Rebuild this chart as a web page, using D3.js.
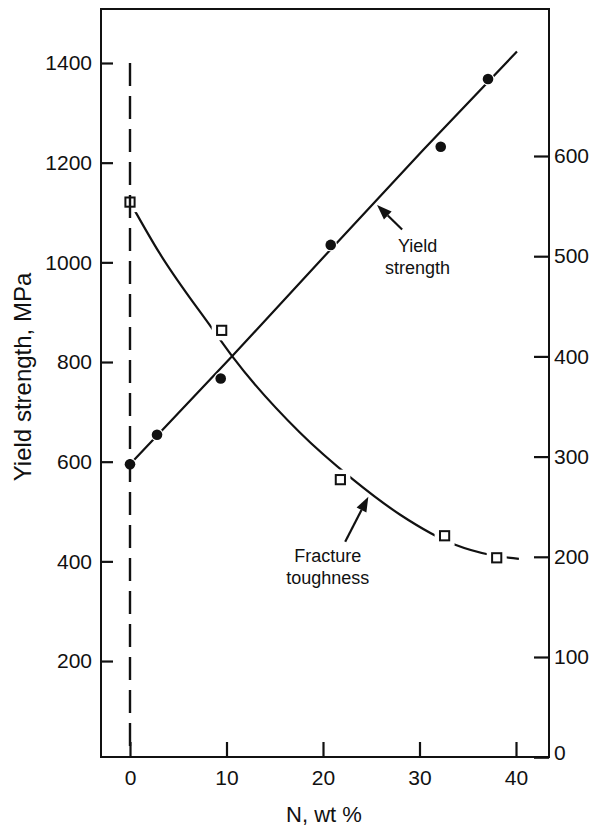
<!DOCTYPE html>
<html>
<head>
<meta charset="utf-8">
<script src="https://cdn.jsdelivr.net/npm/d3@7"></script>
<style>
  html, body { margin: 0; padding: 0; background: #fff; }
  svg { display: block; }
  text { font-family: "Liberation Sans", Arial, Helvetica, sans-serif; fill: #111; }
</style>
</head>
<body>
<svg id="chart" width="604" height="828"></svg>
<script>
// Measured yield strength (MPa) against nitrogen content (wt %)
const nYield   = [0, 2.8, 9.4, 20.8, 32.2, 37.1];
const yieldMPa = [595, 654, 767, 1035, 1232, 1368];

// Fitted yield-strength trend
const yieldTrendN   = [0, 10.6, 20.8, 30.4, 40.1];
const yieldTrendMPa = [595, 812, 1026, 1226, 1423];

// Measured fracture toughness (right-hand scale)
const nTough    = [0, 9.5, 21.8, 32.6, 38.0];
const toughness = [554, 426, 277, 221, 199];

// Fitted fracture-toughness trend
const toughTrendN   = [0, 3.0, 8.5, 10.6, 17.6, 23.0, 28.0, 33.7, 37.3, 40.3];
const toughTrendVal = [554, 504, 428, 400, 324, 278, 242, 212, 202, 198];

// Tick values
const xTicks     = [0, 10, 20, 30, 40];
const leftTicks  = [200, 400, 600, 800, 1000, 1200, 1400];
const rightTicks = [0, 100, 200, 300, 400, 500, 600];

// Reference line at N = 0 (top end in MPa)
const refN = 0, refTopMPa = 1400;

const svg = d3.select("#chart");
const frame = { left: 101, right: 549, top: 9, bottom: 757 };
const INK = "#111";
const fmt = d3.format("d");

const x  = d3.scaleLinear().domain([0, 40]).range([130, 516]);
const yL = d3.scaleLinear().domain([0, 1400]).range([760.7, 63]);
const yR = d3.scaleLinear().domain([0, 600]).range([757.2, 156]);

svg.append("rect").attr("width", 604).attr("height", 828).attr("fill", "#fff");

// Plot frame
svg.append("rect")
  .attr("x", frame.left).attr("y", frame.top)
  .attr("width", frame.right - frame.left)
  .attr("height", frame.bottom - frame.top)
  .attr("fill", "none").attr("stroke", INK).attr("stroke-width", 2);

function styleAxis(g) {
  g.select(".domain").remove();
  g.selectAll(".tick line").attr("stroke", INK).attr("stroke-width", 2.2);
  g.selectAll(".tick text").attr("fill", INK);
  g.attr("font-family", "Liberation Sans, Arial, Helvetica, sans-serif").attr("font-size", 21);
}

svg.append("g")
  .attr("transform", `translate(${frame.left},0)`)
  .call(d3.axisLeft(yL).tickValues(leftTicks).tickFormat(fmt)
    .tickSizeInner(-12).tickSizeOuter(0).tickPadding(9))
  .call(styleAxis);

const rightAxis = svg.append("g")
  .attr("transform", `translate(${frame.right},0)`)
  .call(d3.axisRight(yR).tickValues(rightTicks).tickFormat(fmt)
    .tickSizeInner(-15).tickSizeOuter(0).tickPadding(5))
  .call(styleAxis);
rightAxis.selectAll(".tick").filter(d => d === 0).select("text").attr("y", -4);

svg.append("g")
  .attr("transform", `translate(0,${frame.bottom})`)
  .call(d3.axisBottom(x).tickValues(xTicks).tickFormat(fmt)
    .tickSizeInner(-15).tickSizeOuter(0).tickPadding(13))
  .call(styleAxis);

// Axis titles
svg.append("text")
  .attr("x", 324).attr("y", 822)
  .attr("text-anchor", "middle").attr("font-size", 22)
  .text("N, wt %");

svg.append("text")
  .attr("transform", "translate(31,377) rotate(-90)")
  .attr("text-anchor", "middle").attr("font-size", 24)
  .text("Yield strength, MPa");

// Trend curves
const yieldLine = d3.line().x(d => x(d[0])).y(d => yL(d[1]));
svg.append("path")
  .datum(d3.zip(yieldTrendN, yieldTrendMPa))
  .attr("d", yieldLine)
  .attr("fill", "none").attr("stroke", INK).attr("stroke-width", 2.2);

const toughLine = d3.line().x(d => x(d[0])).y(d => yR(d[1])).curve(d3.curveMonotoneX);
svg.append("path")
  .datum(d3.zip(toughTrendN, toughTrendVal))
  .attr("d", toughLine)
  .attr("fill", "none").attr("stroke", INK).attr("stroke-width", 2.2);

// White clearances around markers break the curves
const yieldPts = d3.zip(nYield, yieldMPa);
const toughPts = d3.zip(nTough, toughness);

svg.append("g").selectAll("circle").data(yieldPts).join("circle")
  .attr("cx", d => x(d[0])).attr("cy", d => yL(d[1])).attr("r", 6.4)
  .attr("fill", "#fff");
svg.append("g").selectAll("rect").data(toughPts).join("rect")
  .attr("x", d => x(d[0]) - 10).attr("y", d => yR(d[1]) - 10)
  .attr("width", 20).attr("height", 20).attr("fill", "#fff");

// Dashed reference line at N = 0
svg.append("line")
  .attr("x1", x(refN)).attr("x2", x(refN))
  .attr("y1", yL(refTopMPa)).attr("y2", frame.bottom)
  .attr("stroke", INK).attr("stroke-width", 2.4)
  .attr("stroke-dasharray", "23,10");

// Markers
svg.append("g").selectAll("circle").data(yieldPts).join("circle")
  .attr("cx", d => x(d[0])).attr("cy", d => yL(d[1])).attr("r", 5.3)
  .attr("fill", INK);
svg.append("g").selectAll("rect").data(toughPts).join("rect")
  .attr("x", d => x(d[0]) - 4.6).attr("y", d => yR(d[1]) - 4.6)
  .attr("width", 9.2).attr("height", 9.2)
  .attr("fill", "none").attr("stroke", INK).attr("stroke-width", 2);

// Callout arrows
function arrow(tail, tip) {
  const dx = tip[0] - tail[0], dy = tip[1] - tail[1];
  const len = Math.hypot(dx, dy), ux = dx / len, uy = dy / len;
  const headLen = 15, headHalf = 5.5;
  const bx = tip[0] - ux * headLen, by = tip[1] - uy * headLen;
  svg.append("line")
    .attr("x1", tail[0]).attr("y1", tail[1]).attr("x2", bx).attr("y2", by)
    .attr("stroke", INK).attr("stroke-width", 2.2);
  svg.append("path")
    .attr("d", `M${tip[0]},${tip[1]}L${bx - uy * headHalf},${by + ux * headHalf}L${bx + uy * headHalf},${by - ux * headHalf}Z`)
    .attr("fill", INK);
}

arrow([x(28.2), yL(1066)], [x(25.6), yL(1115)]);
arrow([x(22.3), yR(215)], [x(24.7), yR(260)]);

// Callout labels
const yieldLabel = svg.append("text")
  .attr("text-anchor", "middle").attr("font-size", 18);
yieldLabel.append("tspan").attr("x", x(29.8)).attr("y", yL(1021)).text("Yield");
yieldLabel.append("tspan").attr("x", x(29.8)).attr("dy", 22).text("strength");

const toughLabel = svg.append("text")
  .attr("text-anchor", "middle").attr("font-size", 18);
toughLabel.append("tspan").attr("x", x(20.5)).attr("y", yR(194.5)).text("Fracture");
toughLabel.append("tspan").attr("x", x(20.5)).attr("dy", 21.5).text("toughness");
</script>
</body>
</html>
